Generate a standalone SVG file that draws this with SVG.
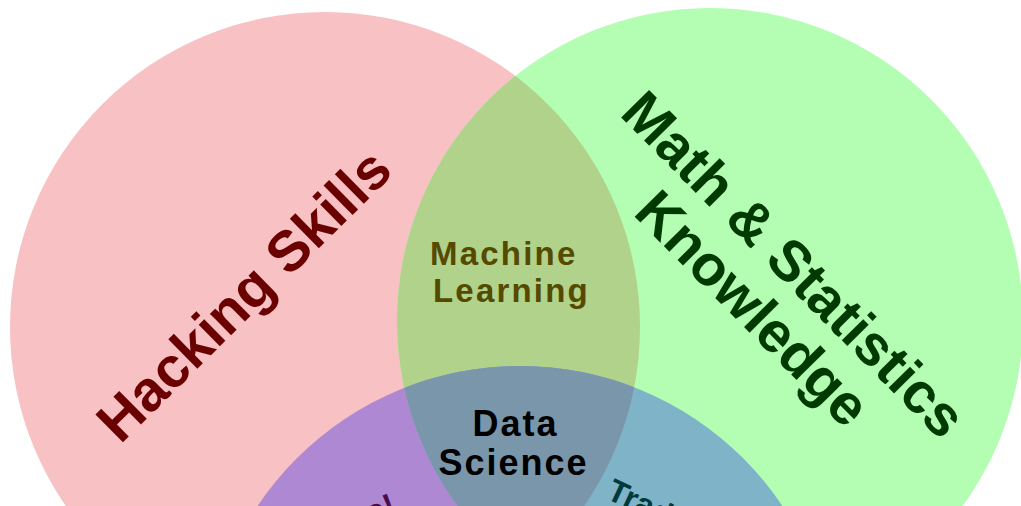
<svg xmlns="http://www.w3.org/2000/svg" width="1021" height="506" viewBox="0 0 1021 506">
  <style>
    text { font-family: "Liberation Sans", Arial, Helvetica, sans-serif; font-weight: bold; }
    .big { font-size: 57px; }
    .mid { font-size: 33px; letter-spacing: 2.2px; }
    .ds { font-size: 36px; letter-spacing: 2px; }
    .small { font-size: 32px; }
  </style>
  <defs>
    <circle id="cPink" cx="325" cy="327" r="315"/>
    <circle id="cGreen" cx="710" cy="321" r="313"/>
    <circle id="cBlue" cx="520" cy="682" r="316"/>
    <clipPath id="clipPink"><use href="#cPink"/></clipPath>
    <clipPath id="clipGreen"><use href="#cGreen"/></clipPath>
  </defs>
  <rect width="1021" height="506" fill="#ffffff"/>
  <g id="hacking">
    <use href="#cPink" fill="#F8C1C3"/>
  </g>
  <g id="math">
    <use href="#cGreen" fill="#B3FEB3"/>
  </g>
  <g id="machine-learning-region">
    <use href="#cGreen" fill="#B0D28A" clip-path="url(#clipPink)"/>
  </g>
  <g id="danger-zone-region">
    <use href="#cBlue" fill="#AF88D4" clip-path="url(#clipPink)"/>
  </g>
  <g id="traditional-research-region">
    <use href="#cBlue" fill="#7FB3C8" clip-path="url(#clipGreen)"/>
  </g>
  <g id="data-science-region" clip-path="url(#clipPink)">
    <use href="#cBlue" fill="#7A96AB" clip-path="url(#clipGreen)"/>
  </g>
  <g id="connectors"/>
  <g id="label-hacking">
    <text class="big" fill="#6B0000" text-anchor="middle" transform="translate(257.5 309) rotate(-44.7)">Hacking Skills</text>
  </g>
  <g id="label-math">
    <text class="big" fill="#003A00" text-anchor="middle" transform="translate(780 278) rotate(45.3)">Math &amp; Statistics</text>
    <text class="big" fill="#003A00" text-anchor="middle" transform="translate(739 322) rotate(45.3)">Knowledge</text>
  </g>
  <g id="label-machine-learning">
    <text class="mid" fill="#554A00" x="430" y="265">Machine</text>
    <text class="mid" fill="#554A00" x="433" y="301.5">Learning</text>
  </g>
  <g id="label-data-science">
    <text class="ds" fill="#000000" x="472.5" y="436">Data</text>
    <text class="ds" fill="#000000" x="438.5" y="475">Science</text>
  </g>
  <g id="label-danger-zone">
    <text class="small" fill="#4A0E4A" text-anchor="end" transform="translate(398 513) rotate(-22)">Danger Zone!</text>
  </g>
  <g id="label-traditional-research">
    <text class="small" fill="#003A3A" transform="translate(605 498) rotate(25)">Traditional Research</text>
  </g>
</svg>
